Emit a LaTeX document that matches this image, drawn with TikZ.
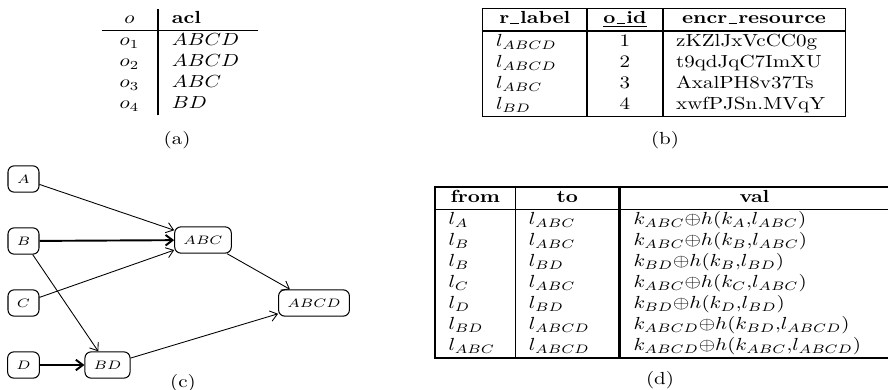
\documentclass[tikz,border=0pt]{standalone}
\usepackage{graphicx}
\usepackage{array}
\usetikzlibrary{arrows.meta}
\newcommand{\stretchx}[1]{\scalebox{1.2}[1]{#1}}
\newcommand{\usc}{\leavevmode\kern.06em\vbox{\hrule width.4em height.7pt}\kern.06em}
\tikzset{
  vtx/.style={draw, rounded corners=3.5pt, line width=0.6pt, font=\scriptsize,
    inner xsep=5pt, minimum height=15pt, minimum width=17.7pt},
  link/.style={-{Straight Barb[length=4pt,width=6pt]}, line width=0.5pt},
  tbl/.style={inner sep=0pt},
}

\begin{document}
\begin{tikzpicture}[x=0.5714pt, y=-0.5714pt]
		%%%%% START %%%%%
		\useasboundingbox (0, 0) rectangle (888, 390);
		
		% (a) objects and their acls
		\node[tbl] (tabA) at (180, 62) {\stretchx{\setlength{\arrayrulewidth}{0.9pt}%
			\begin{tabular}{>{\centering\arraybackslash}p{14pt}!{\vrule width 1.2pt}p{35pt}}
				$o$ & \textbf{acl}\\ \hline
				$o_1$ & $ABCD$\\
				$o_2$ & $ABCD$\\
				$o_3$ & $ABC$\\
				$o_4$ & $BD$
			\end{tabular}}};
		\node (capA) at (177, 140) {\stretchx{(a)}};
		
		% (b) encrypted resources
		\node[tbl] (tabB) at (664, 62.5) {\stretchx{\setlength{\arrayrulewidth}{0.8pt}%
			\begin{tabular}{|p{37pt}|>{\centering\arraybackslash}p{23.2pt}|p{74.2pt}|}
				\hline
				\multicolumn{1}{|c|}{\textbf{r\usc label}} & \underline{\textbf{o\usc id}} & \multicolumn{1}{c|}{\textbf{encr\usc resource}}\\ \hline
				$l_{ABCD}$ & 1 & zKZlJxVcCC0g\\
				$l_{ABCD}$ & 2 & t9qdJqC7ImXU\\
				$l_{ABC}$ & 3 & AxalPH8v37Ts\\
				$l_{BD}$ & 4 & xwfPJSn.MVqY\\ \hline
			\end{tabular}}};
		\node (capB) at (665, 140) {\stretchx{(b)}};
		
		% (c) label hierarchy
		\node[vtx] (A) at (23.5, 179) {\stretchx{$A$}};
		\node[vtx] (B) at (23.5, 241) {\stretchx{$B$}};
		\node[vtx] (C) at (23.5, 303) {\stretchx{$C$}};
		\node[vtx] (D) at (23.5, 365) {\stretchx{$D$}};
		\node[vtx] (BD) at (107.5, 365) {\stretchx{$BD$}};
		\node[vtx] (ABC) at (203, 240) {\stretchx{$ABC$}};
		\node[vtx] (ABCD) at (314, 303) {\stretchx{$ABCD$}};
		
		\draw[link] (A) -- (ABC);
		\draw[link, line width=1.1pt] (B) -- (ABC);
		\draw[link] (C) -- (ABC);
		\draw[link] (B) -- (BD);
		\draw[link, line width=1.1pt] (D) -- (BD);
		\draw[link] (ABC) -- (ABCD);
		\draw[link] (BD) -- (ABCD);
		\node (capC) at (183, 383) {\stretchx{(c)}};
		
		% (d) tokens on the edges
		\node[tbl] (tabD) at (662, 272.5) {\stretchx{\setlength{\arrayrulewidth}{0.8pt}%
			\begin{tabular}{|p{25.5pt}|p{36.5pt}!{\vrule width 1.3pt}p{115.2pt}|}
				\hline
				\multicolumn{1}{|c|}{\textbf{from}} & \multicolumn{1}{c!{\vrule width 1.3pt}}{\textbf{to}} & \multicolumn{1}{c|}{\textbf{val}}\\ \hline
				$l_A$ & $l_{ABC}$ & $k_{ABC}{\oplus}h(k_A{,}l_{ABC})$\\
				$l_B$ & $l_{ABC}$ & $k_{ABC}{\oplus}h(k_B{,}l_{ABC})$\\
				$l_B$ & $l_{BD}$ & $k_{BD}{\oplus}h(k_B{,}l_{BD})$\\
				$l_C$ & $l_{ABC}$ & $k_{ABC}{\oplus}h(k_C{,}l_{ABC})$\\
				$l_D$ & $l_{BD}$ & $k_{BD}{\oplus}h(k_D{,}l_{BD})$\\
				$l_{BD}$ & $l_{ABCD}$ & $k_{ABCD}{\oplus}h(k_{BD}{,}l_{ABCD})$\\
				$l_{ABC}$ & $l_{ABCD}$ & $k_{ABCD}{\oplus}h(k_{ABC}{,}l_{ABCD})$\\ \hline
			\end{tabular}}};
		\node (capD) at (660, 380) {\stretchx{(d)}};
		
		%%%%% END %%%%%
\end{tikzpicture}
\end{document}
